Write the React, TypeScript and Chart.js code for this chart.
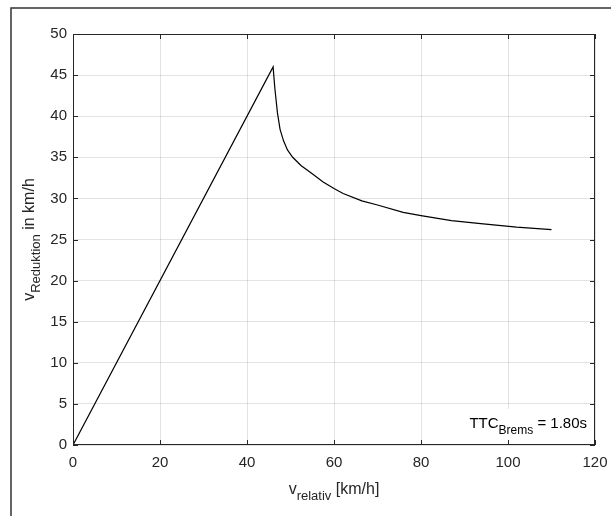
import React, { useEffect, useRef } from 'react';
import { Chart, registerables } from 'chart.js';

Chart.register(...registerables);

// Data
const vRelativ = [0, 46, 46.4, 47, 47.6, 48.4, 49.3, 50.5, 52.4, 55, 57.5, 60, 62.1, 66.4, 70, 75.9, 80, 87, 94.3, 102, 110];
const vReduktion = [0, 46, 43.4, 40.4, 38.4, 37, 35.9, 35, 34, 33, 32, 31.2, 30.6, 29.7, 29.2, 28.3, 27.9, 27.3, 26.9, 26.5, 26.2];

const xTicks = [0, 20, 40, 60, 80, 100, 120];
const yTicks = [0, 5, 10, 15, 20, 25, 30, 35, 40, 45, 50];

const FONT = '"Liberation Sans", Arial, Helvetica, sans-serif';
const AXIS_COLOR = '#262626';

function drawSubText(
  ctx: CanvasRenderingContext2D,
  parts: { text: string; sub?: boolean }[],
  x: number,
  y: number,
  align: 'center' | 'right',
  mainSize: number,
  subSize: number,
  subDrop: number
) {
  const widths = parts.map((p) => {
    ctx.font = `${p.sub ? subSize : mainSize}px ${FONT}`;
    return ctx.measureText(p.text).width;
  });
  const total = widths.reduce((a, b) => a + b, 0);
  let cx = align === 'center' ? x - total / 2 : x - total;
  ctx.textAlign = 'left';
  ctx.textBaseline = 'alphabetic';
  parts.forEach((p, i) => {
    ctx.font = `${p.sub ? subSize : mainSize}px ${FONT}`;
    ctx.fillText(p.text, cx, y + (p.sub ? subDrop : 0));
    cx += widths[i];
  });
}

const matlabPlugin = {
  id: 'matlabStyle',
  beforeDatasetsDraw(chart: any) {
    const { ctx, chartArea } = chart;
    ctx.save();
    ctx.fillStyle = '#ffffff';
    ctx.fillRect(chartArea.right - 140, chartArea.bottom - 36, 140, 36);
    ctx.restore();
  },
  afterDraw(chart: any) {
    const { ctx, chartArea, scales } = chart;
    const { left, right, top, bottom } = chartArea;
    const xs = scales.x;
    const ys = scales.y;
    ctx.save();

    // outer figure frame
    ctx.strokeStyle = '#333333';
    ctx.lineWidth = 1.5;
    ctx.beginPath();
    ctx.moveTo(11, 516);
    ctx.lineTo(11, 8);
    ctx.lineTo(611, 8);
    ctx.stroke();

    // annotation
    ctx.fillStyle = '#000000';
    drawSubText(
      ctx,
      [{ text: 'TTC' }, { text: 'Brems', sub: true }, { text: ' = 1.80s' }],
      right - 8,
      bottom - 17,
      'right',
      15,
      12,
      6
    );

    // axes box
    ctx.strokeStyle = AXIS_COLOR;
    ctx.lineWidth = 1;
    ctx.strokeRect(left + 0.5, top + 0.5, right - left - 1, bottom - top - 1);

    // inward ticks
    ctx.beginPath();
    xTicks.forEach((v) => {
      const px = Math.round(xs.getPixelForValue(v)) + 0.5;
      ctx.moveTo(px, bottom);
      ctx.lineTo(px, bottom - 5);
      ctx.moveTo(px, top);
      ctx.lineTo(px, top + 5);
    });
    yTicks.forEach((v) => {
      const py = Math.round(ys.getPixelForValue(v)) + 0.5;
      ctx.moveTo(left, py);
      ctx.lineTo(left + 5, py);
      ctx.moveTo(right, py);
      ctx.lineTo(right - 5, py);
    });
    ctx.stroke();

    // axis titles
    ctx.fillStyle = AXIS_COLOR;
    drawSubText(
      ctx,
      [{ text: 'v' }, { text: 'relativ', sub: true }, { text: ' [km/h]' }],
      (left + right) / 2,
      494,
      'center',
      16,
      13,
      6
    );
    ctx.save();
    ctx.translate(34, (top + bottom) / 2);
    ctx.rotate(-Math.PI / 2);
    drawSubText(
      ctx,
      [{ text: 'v' }, { text: 'Reduktion', sub: true }, { text: ' in km/h' }],
      0,
      0,
      'center',
      16,
      13,
      6
    );
    ctx.restore();

    ctx.restore();
  },
};

export default function App() {
  const canvasRef = useRef<HTMLCanvasElement | null>(null);

  useEffect(() => {
    if (!canvasRef.current) return;
    const points = vRelativ.map((x, i) => ({ x, y: vReduktion[i] }));
    const chart = new Chart(canvasRef.current, {
      type: 'scatter',
      data: {
        datasets: [
          {
            data: points,
            showLine: true,
            borderColor: '#000000',
            borderWidth: 1.2,
            pointRadius: 0,
            tension: 0,
            fill: false,
          },
        ],
      },
      options: {
        animation: false,
        responsive: false,
        devicePixelRatio: 1,
        layout: { padding: { left: 0, top: 34, right: 16, bottom: 0 } },
        plugins: {
          legend: { display: false },
          tooltip: { enabled: false },
        },
        scales: {
          x: {
            type: 'linear',
            min: 0,
            max: 120,
            afterBuildTicks: (scale: any) => {
              scale.ticks = xTicks.map((v) => ({ value: v }));
            },
            afterFit: (scale: any) => {
              scale.height = 71;
              scale.paddingLeft = 0;
              scale.paddingRight = 0;
            },
            ticks: {
              color: AXIS_COLOR,
              font: { family: FONT, size: 15 },
              padding: 9,
              maxRotation: 0,
            },
            grid: {
              color: 'rgba(38,38,38,0.13)',
              drawTicks: false,
            },
            border: { display: false },
          },
          y: {
            type: 'linear',
            min: 0,
            max: 50,
            afterBuildTicks: (scale: any) => {
              scale.ticks = yTicks.map((v) => ({ value: v }));
            },
            afterFit: (scale: any) => {
              scale.width = 73;
              scale.paddingTop = 0;
              scale.paddingBottom = 0;
            },
            ticks: {
              color: AXIS_COLOR,
              font: { family: FONT, size: 15 },
              padding: 6,
            },
            grid: {
              color: 'rgba(38,38,38,0.13)',
              drawTicks: false,
            },
            border: { display: false },
          },
        },
      },
      plugins: [matlabPlugin],
    });
    return () => chart.destroy();
  }, []);

  return (
    <div style={{ position: 'absolute', left: 0, top: 0, width: 611, height: 516, background: '#ffffff' }}>
      <canvas ref={canvasRef} width={611} height={516} />
    </div>
  );
}
